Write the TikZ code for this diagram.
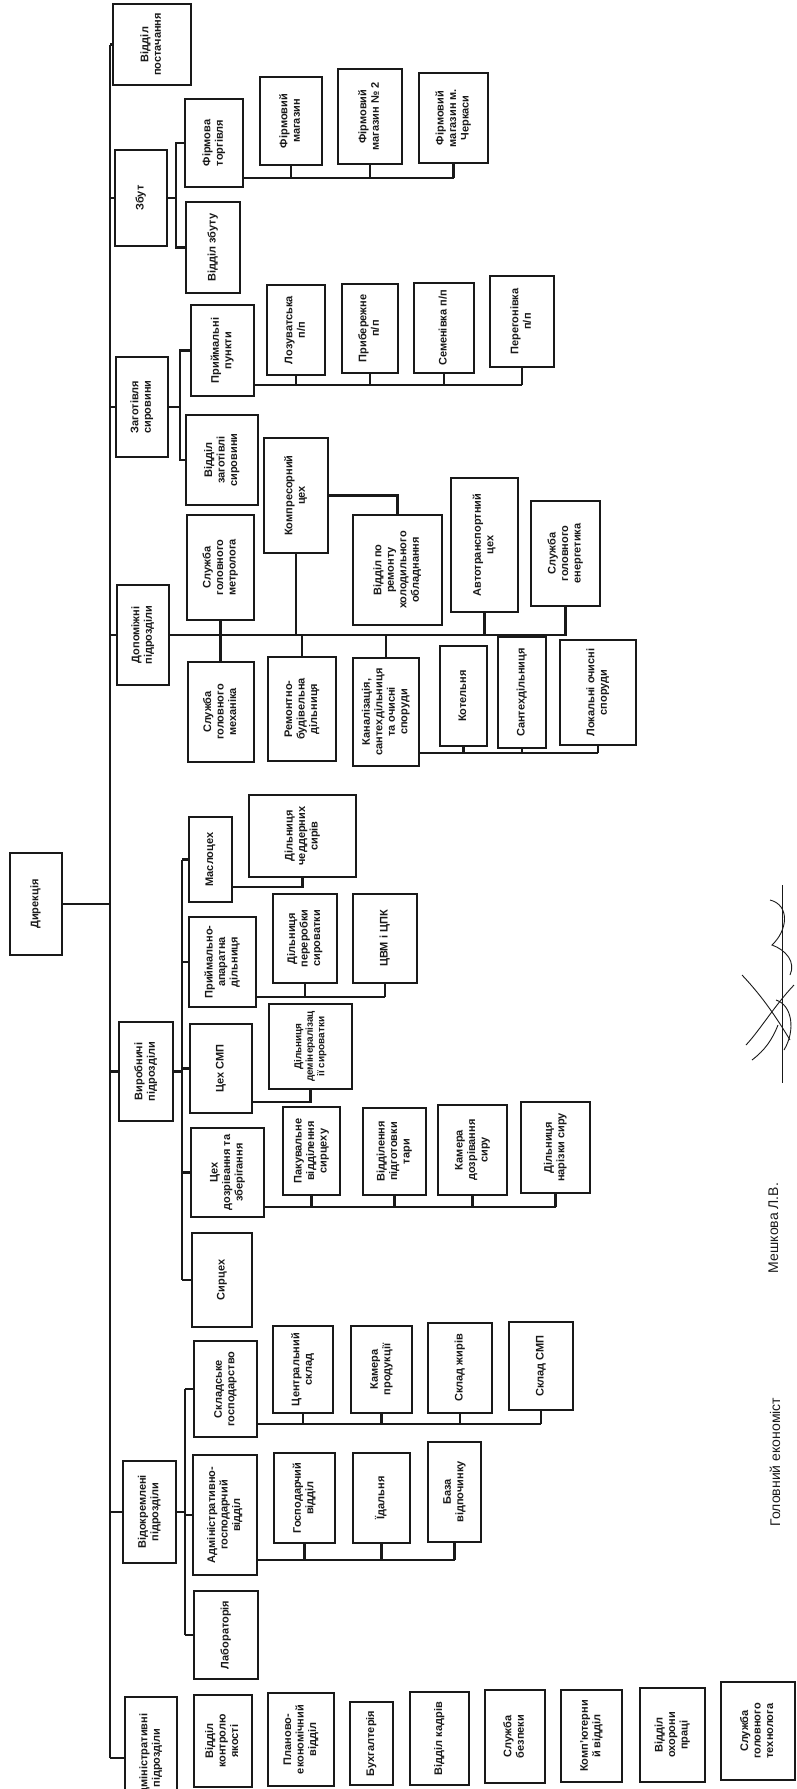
\documentclass[tikz,border=0pt]{standalone}
\usepackage{fontspec}
\setmainfont{Liberation Serif}
\setsansfont{Liberation Sans}
\usetikzlibrary{calc}
\definecolor{ink}{RGB}{25,25,25}
\newcommand{\vtext}[1]{\rotatebox{90}{\begin{tabular}{@{}c@{}}#1\end{tabular}}}
\tikzset{
  orgbox/.style={draw=ink,line width=2.4pt,inner sep=0pt,fill=white,text=ink,
    font=\sffamily\bfseries\fontsize{11}{12.5}\selectfont},
  bx/.style 2 args={orgbox,minimum width=#1pt,minimum height=#2pt},
  tight/.style={font=\sffamily\bfseries\fontsize{10}{11.5}\selectfont},
  link/.style={line width=2.2pt,draw=ink},
  signote/.style={font=\sffamily\fontsize{14}{16}\selectfont,text=ink,inner sep=0pt},
  scrawl/.style={draw=ink,line width=0.9pt}
}

\begin{document}
\begin{tikzpicture}[x=1pt,y=-1pt]
  \useasboundingbox (0,0) rectangle (797,1789);
  \clip (0,0) rectangle (797,1789);
  % top level
  \node[bx={52}{102}] (dir) at (36,904) {\vtext{Дирекція}};
  \node[bx={78}{81}] (postach) at (152,44.5) {\vtext{Відділ\\ постачання}};
  \node[bx={52}{96}] (zbut) at (141,198) {\vtext{Збут}};
  \node[bx={52}{100}] (zagot) at (142,407) {\vtext{Заготівля\\ сировини}};
  \node[bx={52}{100}] (dopom) at (143,635) {\vtext{Допоміжні\\ підрозділи}};
  \node[bx={54}{99}] (vyrob) at (146,1071.5) {\vtext{Виробничі\\ підрозділи}};
  \node[bx={53}{102}] (vidok) at (149.5,1512) {\vtext{Відокремлені\\ підрозділи}};
  \node[bx={52}{122}] (admp) at (151,1758) {\vtext{Адміністративні\\ підрозділи}};
  % sales
  \node[bx={58}{88}] (firm) at (214,143) {\vtext{Фірмова\\ торгівля}};
  \node[bx={54}{91}] (vzb) at (213,247.5) {\vtext{Відділ збуту}};
  \node[bx={62}{88}] (shop1) at (291,121) {\vtext{Фірмовий\\ магазин}};
  \node[bx={64}{95}] (shop2) at (370,116.5) {\vtext{Фірмовий\\ магазин № 2}};
  \node[bx={69}{90}] (shop3) at (453.5,118) {\vtext{Фірмовий\\ магазин м.\\ Черкаси}};
  % raw milk
  \node[bx={63}{91}] (ppunkt) at (222.5,350.5) {\vtext{Приймальні\\ пункти}};
  \node[bx={72}{90}] (vzag) at (222,460) {\vtext{Відділ\\ заготівлі\\ сировини}};
  \node[bx={58}{90}] (pp1) at (296,330) {\vtext{Лозуватська\\ п/п}};
  \node[bx={56}{89}] (pp2) at (370,328.5) {\vtext{Прибережне\\ п/п}};
  \node[bx={60}{90}] (pp3) at (444,328) {\vtext{Семенівка п/п}};
  \node[bx={64}{91}] (pp4) at (522,321.5) {\vtext{Перегонівка\\ п/п}};
  % auxiliary
  \node[bx={67}{105}] (metr) at (220.5,567.5) {\vtext{Служба\\ головного\\ метролога}};
  \node[bx={64}{115}] (kompr) at (296,495.5) {\vtext{Компресорний\\ цех}};
  \node[bx={89}{110}] (vrem) at (397.5,570) {\vtext{Відділ по\\ ремонту\\ холодильного\\ обладнання}};
  \node[bx={67}{134}] (avto) at (484.5,545) {\vtext{Автотранспортний\\ цех}};
  \node[bx={69}{105}] (energ) at (565.5,553.5) {\vtext{Служба\\ головного\\ енергетика}};
  \node[bx={66}{100}] (mech) at (221,712) {\vtext{Служба\\ головного\\ механіка}};
  \node[bx={68}{104}] (rbd) at (302,709) {\vtext{Ремонтно-\\ будівельна\\ дільниця}};
  \node[bx={66}{108}] (kanal) at (386,712) {\vtext{Каналізація,\\ сантехдільниця\\ та очисні\\ споруди}};
  \node[bx={47}{100}] (kotel) at (463.5,696) {\vtext{Котельня}};
  \node[bx={48}{111}] (santeh) at (522,692.5) {\vtext{Сантехдільниця}};
  \node[bx={76}{105}] (lokal) at (598,692.5) {\vtext{Локальні очисні\\ споруди}};
  % production
  \node[bx={43}{85}] (maslo) at (210.5,859.5) {\vtext{Маслоцех}};
  \node[bx={107}{82}] (cheddar) at (302.5,836) {\vtext{Дільниця\\ чеддерних\\ сирів}};
  \node[bx={67}{90}] (priym) at (222.5,962) {\vtext{Приймально-\\ апаратна\\ дільниця}};
  \node[bx={64}{89}] (pererob) at (305,938.5) {\vtext{Дільниця\\ переробки\\ сироватки}};
  \node[bx={64}{89}] (cvm) at (385,938.5) {\vtext{ЦВМ і ЦПК}};
  \node[bx={62}{89}] (cehsmp) at (221,1068.5) {\vtext{Цех СМП}};
  \node[bx={83}{85},tight] (demin) at (310.5,1046.5) {\vtext{Дільниця\\ демінералізац\\ ії сироватки}};
  \node[bx={73}{89}] (dozr) at (227.5,1172.5) {\vtext{Цех\\ дозрівання та\\ зберігання}};
  \node[bx={57}{88}] (pak) at (311.5,1151) {\vtext{Пакувальне\\ відділення\\ сирцеху}};
  \node[bx={63}{87}] (tara) at (394.5,1151.5) {\vtext{Відділення\\ підготовки\\ тари}};
  \node[bx={69}{90}] (kamera) at (472.5,1150) {\vtext{Камера\\ дозрівання\\ сиру}};
  \node[bx={69}{91}] (narizka) at (555.5,1147.5) {\vtext{Дільниця\\ нарізки сиру}};
  \node[bx={60}{94}] (syrceh) at (222,1280) {\vtext{Сирцех}};
  % separate units
  \node[bx={63}{96}] (sklad) at (225.5,1389) {\vtext{Складське\\ господарство}};
  \node[bx={64}{120}] (agv) at (225,1515) {\vtext{Адміністративно-\\ господарчий\\ відділ}};
  \node[bx={64}{88}] (lab) at (226,1635) {\vtext{Лабораторія}};
  \node[bx={60}{87}] (csklad) at (303,1369.5) {\vtext{Центральний\\ склад}};
  \node[bx={61}{87}] (kamprod) at (381.5,1369.5) {\vtext{Камера\\ продукції}};
  \node[bx={64}{90}] (szhyr) at (460,1368) {\vtext{Склад жирів}};
  \node[bx={64}{88}] (ssmp) at (541,1366) {\vtext{Склад СМП}};
  \node[bx={61}{90}] (gosp) at (304.5,1498) {\vtext{Господарчий\\ відділ}};
  \node[bx={57}{90}] (idaln) at (381.5,1498) {\vtext{Їдальня}};
  \node[bx={53}{100}] (baza) at (454.5,1492) {\vtext{База\\ відпочинку}};
  % bottom row, not linked
  \node[bx={58}{92}] (kontr) at (223,1741) {\vtext{Відділ\\ контролю\\ якості}};
  \node[bx={66}{93}] (plan) at (301,1739.5) {\vtext{Планово-\\ економічний\\ відділ}};
  \node[bx={43}{83}] (buh) at (371.5,1743.5) {\vtext{Бухгалтерія}};
  \node[bx={59}{93}] (kadr) at (439.5,1738.5) {\vtext{Відділ кадрів}};
  \node[bx={60}{93}] (bezp) at (515,1736.5) {\vtext{Служба\\ безпеки}};
  \node[bx={61}{92}] (komp) at (591.5,1736) {\vtext{Комп'ютерни\\ й відділ}};
  \node[bx={65}{94}] (ohor) at (672.5,1735) {\vtext{Відділ\\ охорони\\ праці}};
  \node[bx={74}{98}] (tehn) at (758,1731) {\vtext{Служба\\ головного\\ технолога}};
  % signatures
  \node[signote] (ekon) at (777,1462) {\vtext{Головний економіст}};
  \node[signote] (meshk) at (775,1228) {\vtext{Мешкова Л.В.}};

  % trunk
  \coordinate (trunk) at (110,0);
  \draw[link] (postach.west -| trunk) -- (admp.west -| trunk);
  \foreach \n in {postach,zbut,zagot,dopom,vyrob,vidok,admp}
    \draw[link] (\n.west) -- (\n.west -| trunk);
  \draw[link] (dir.east) -- (dir.east -| trunk);

  % sales
  \coordinate (sbus) at (176,0);
  \coordinate (fbus) at (0,178);
  \draw[link] (zbut.east) -- (zbut.east -| sbus);
  \draw[link] (firm.west) -- (firm.west -| sbus) |- (vzb.west);
  \draw[link] (firm.east |- fbus) -- (shop3.south |- fbus);
  \foreach \n in {shop1,shop2,shop3}
    \draw[link] (\n.south) -- (\n.south |- fbus);

  % raw milk
  \coordinate (gbus) at (180,0);
  \coordinate (pbus) at (0,385);
  \draw[link] (zagot.east) -- (zagot.east -| gbus);
  \draw[link] (ppunkt.west) -- (ppunkt.west -| gbus) |- (vzag.west);
  \draw[link] (ppunkt.east |- pbus) -- (pp4.south |- pbus);
  \foreach \n in {pp1,pp2,pp3,pp4}
    \draw[link] (\n.south) -- (\n.south |- pbus);

  % auxiliary
  \coordinate (kbus) at (0,753);
  \draw[link] (dopom.east) -- (dopom.east -| energ.south) -- (energ.south);
  \draw[link] (metr.south) -- (metr.south |- mech.north);
  \foreach \n in {kompr,avto}
    \draw[link] (\n.south) -- (\n.south |- dopom.east);
  \foreach \n in {rbd,kanal}
    \draw[link] (\n.north) -- (\n.north |- dopom.east);
  \draw[link] (kompr.east) -| (vrem.north);
  \draw[link] (kanal.east |- kbus) -- (lokal.south |- kbus);
  \foreach \n in {kotel,santeh,lokal}
    \draw[link] (\n.south) -- (\n.south |- kbus);

  % production
  \coordinate (vbus) at (182,0);
  \coordinate (mlink) at (0,887);
  \coordinate (abus) at (0,997);
  \coordinate (slink) at (0,1102);
  \coordinate (dbus) at (0,1207);
  \draw[link] (vyrob.east) -- (vyrob.east -| vbus);
  \draw[link] (maslo.west -| vbus) -- (syrceh.west -| vbus);
  \foreach \n in {maslo,priym,cehsmp,dozr,syrceh}
    \draw[link] (\n.west) -- (\n.west -| vbus);
  \draw[link] (cheddar.south) |- (maslo.east |- mlink);
  \draw[link] (priym.east |- abus) -- (cvm.south |- abus);
  \foreach \n in {pererob,cvm}
    \draw[link] (\n.south) -- (\n.south |- abus);
  \draw[link] (cehsmp.east |- slink) -| (demin.south);
  \draw[link] (dozr.east |- dbus) -- (narizka.south |- dbus);
  \foreach \n in {pak,tara,kamera,narizka}
    \draw[link] (\n.south) -- (\n.south |- dbus);

  % separate units
  \coordinate (obus) at (185,0);
  \coordinate (cbus) at (0,1424);
  \coordinate (hbus) at (0,1560);
  \draw[link] (vidok.east) -- (vidok.east -| obus);
  \draw[link] (sklad.west -| obus) -- (lab.west -| obus);
  \foreach \n in {sklad,agv,lab}
    \draw[link] (\n.west) -- (\n.west -| obus);
  \draw[link] (sklad.east |- cbus) -- (ssmp.south |- cbus);
  \foreach \n in {csklad,kamprod,szhyr,ssmp}
    \draw[link] (\n.south) -- (\n.south |- cbus);
  \draw[link] (agv.east |- hbus) -- (baza.south |- hbus);
  \foreach \n in {gosp,idaln,baza}
    \draw[link] (\n.south) -- (\n.south |- hbus);

  % signature
  \coordinate (sigtop) at (782,885);
  \coordinate (sigbot) at (782,1083);
  \draw[scrawl] (sigtop) -- (sigbot);
  \draw[scrawl] (742,975) .. controls (758,992) and (772,1010) .. (790,1040);
  \draw[scrawl] (746,1045) .. controls (760,1030) and (775,1005) .. (794,985);
  \draw[scrawl] (752,1060) .. controls (765,1050) and (772,1040) .. (778,1025);
  \draw[scrawl] (770,900) .. controls (790,905) and (788,930) .. (772,945)
    .. controls (786,950) and (796,962) .. (790,975);
  \draw[scrawl] (776,1000) .. controls (792,1005) and (796,1030) .. (784,1050);
\end{tikzpicture}
\end{document}
